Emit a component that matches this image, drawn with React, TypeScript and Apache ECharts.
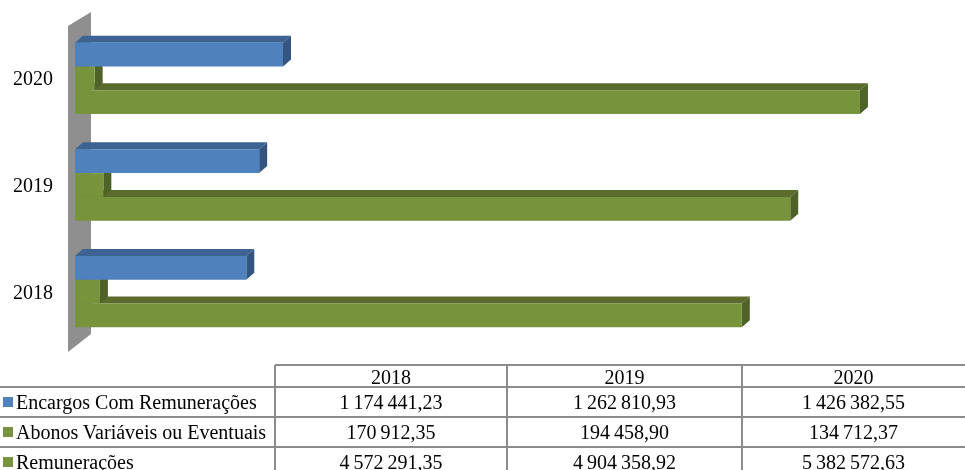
import React, { useEffect, useRef } from "react";
import * as echarts from "echarts";

const categories = ["2018", "2019", "2020"];
const seriesNames = [
  "Encargos Com Remunerações",
  "Abonos Variáveis ou Eventuais",
  "Remunerações",
];
const encargos = [1174441.23, 1262810.93, 1426382.55];
const abonos = [170912.35, 194458.9, 134712.37];
const remuneracoes = [4572291.35, 4904358.92, 5382572.63];
const seriesValues = [encargos, abonos, remuneracoes];

const BLUE = { front: "#4f81bd", top: "#3c6392", side: "#33557f" };
const GREEN = { front: "#77933c", top: "#5a6b2c", side: "#4f6228" };
const seriesPalette = [BLUE, GREEN, GREEN];

const FONT = "'Liberation Serif', 'Times New Roman', serif";

function fmt(v: number): string {
  const [intPart, dec] = v.toFixed(2).split(".");
  const grouped = intPart.replace(/\B(?=(\d{3})+(?!\d))/g, "\u2009");
  return grouped + "," + dec;
}

function makeRender(k: number, pal: { front: string; top: string; side: string }) {
  return (params: any, api: any) => {
    const val = api.value(0);
    const cat = api.value(1);
    const p1 = api.coord([val, cat]);
    const p0 = api.coord([0, cat]);
    const band = api.size([0, 1])[1];
    const h = band * 0.223;
    const x0 = p0[0];
    const x1 = p1[0];
    const yc = p1[1];
    const yTop = yc - 1.5 * h + k * h;
    const yBot = yTop + h;
    const dx = 8;
    const dy = 7;
    return {
      type: "group",
      children: [
        {
          type: "polygon",
          shape: { points: [[x0, yTop], [x1, yTop], [x1 + dx, yTop - dy], [x0 + dx, yTop - dy]] },
          style: { fill: pal.top },
        },
        {
          type: "polygon",
          shape: { points: [[x1, yTop], [x1 + dx, yTop - dy], [x1 + dx, yBot - dy], [x1, yBot]] },
          style: { fill: pal.side },
        },
        {
          type: "rect",
          shape: { x: x0, y: yTop, width: x1 - x0, height: h },
          style: { fill: pal.front },
        },
      ],
    };
  };
}

export default function App() {
  const ref = useRef<HTMLDivElement>(null);
  useEffect(() => {
    if (!ref.current) return;
    const chart = echarts.init(ref.current, null, { renderer: "svg" });

    // draw order: Remunerações first, then Abonos, then Encargos on top
    const order = [2, 1, 0];
    const series = order.map((k) => ({
      type: "custom",
      name: seriesNames[k],
      z: 2,
      renderItem: makeRender(k, seriesPalette[k]),
      encode: { x: 0, y: 1 },
      data: seriesValues[k].map((v, i) => [v, i]),
    }));

    const lineColor = "#8c8c8c";
    const graphics: any[] = [];
    // wall
    graphics.push({
      type: "polygon",
      z: 0,
      shape: { points: [[68, 26], [91, 12], [91, 334], [68, 352]] },
      style: { fill: "#8f8f8f" },
    });
    // table lines
    const colX = [275, 507, 742, 965];
    const rowY = [365, 387, 417, 447, 477];
    const hl = (x1: number, x2: number, y: number) => ({
      type: "line",
      shape: { x1, y1: y, x2, y2: y },
      style: { stroke: lineColor, lineWidth: 2 },
    });
    const vl = (x: number, y1: number, y2: number) => ({
      type: "line",
      shape: { x1: x, y1, x2: x, y2 },
      style: { stroke: lineColor, lineWidth: 2 },
    });
    graphics.push(hl(275, 965, rowY[0]));
    graphics.push(hl(0, 965, rowY[1]));
    graphics.push(hl(0, 965, rowY[2]));
    graphics.push(hl(0, 965, rowY[3]));
    for (let c = 0; c < 3; c++) graphics.push(vl(colX[c], rowY[0], 470));
    // header
    categories.forEach((cat, c) => {
      graphics.push({
        type: "text",
        x: (colX[c] + colX[c + 1]) / 2,
        y: (rowY[0] + rowY[1]) / 2 + 1,
        style: { text: cat, font: `20px ${FONT}`, fill: "#000", align: "center", verticalAlign: "middle" },
      });
    });
    // rows
    seriesNames.forEach((name, r) => {
      const yc = (rowY[r + 1] + rowY[r + 2]) / 2;
      graphics.push({
        type: "rect",
        shape: { x: 3, y: yc - 5, width: 10, height: 10 },
        style: { fill: seriesPalette[r].front },
      });
      graphics.push({
        type: "text",
        x: 16,
        y: yc,
        style: { text: name, font: `20px ${FONT}`, fill: "#000", align: "left", verticalAlign: "middle" },
      });
      seriesValues[r].forEach((v, c) => {
        graphics.push({
          type: "text",
          x: (colX[c] + colX[c + 1]) / 2,
          y: yc,
          style: { text: fmt(v), font: `20px ${FONT}`, fill: "#000", align: "center", verticalAlign: "middle" },
        });
      });
    });

    chart.setOption({
      animation: false,
      grid: { left: 75, right: 15, top: 25, bottom: 125, containLabel: false },
      xAxis: {
        type: "value",
        min: 0,
        max: 6000000,
        show: false,
        splitLine: { show: false },
      },
      yAxis: {
        type: "category",
        data: categories,
        axisLine: { show: false },
        axisTick: { show: false },
        axisLabel: {
          fontFamily: "Liberation Serif",
          fontSize: 20,
          color: "#000",
          margin: 22,
          padding: [12, 0, 0, 0],
        },
      },
      graphic: graphics,
      series,
    });
    return () => chart.dispose();
  }, []);
  return (
    <div
      ref={ref}
      style={{ position: "fixed", left: 0, top: 0, width: 965, height: 470 }}
    />
  );
}
